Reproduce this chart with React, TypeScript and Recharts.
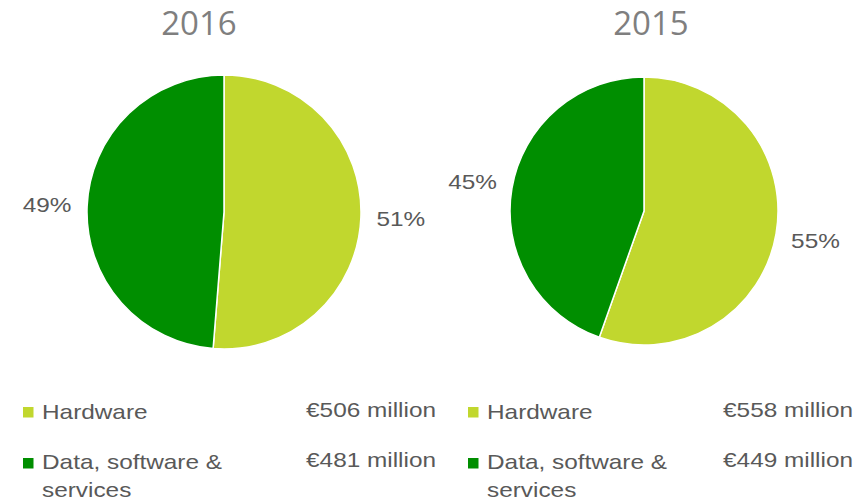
import React from "react";
import { PieChart, Pie, Cell } from "recharts";

const years = ["2016", "2015"];
const categories = ["Hardware", "Data, software & services"];
const values2016 = [506, 481];
const values2015 = [558, 449];
const amountLabels2016 = ["€506 million", "€481 million"];
const amountLabels2015 = ["€558 million", "€449 million"];
const colors = ["#C1D72E", "#008E00"];

const W = 867;
const H = 501;
const FONT = "'Liberation Sans', Arial, sans-serif";
const TEXT = "#595959";
const SX = 1.16;

const toData = (vals: number[]) => {
  const total = vals.reduce((a, b) => a + b, 0);
  return vals.map((v, i) => ({ name: categories[i], value: v, pct: Math.round((v / total) * 100) }));
};
const data2016 = toData(values2016);
const data2015 = toData(values2015);

const WideText = ({ x, y, anchor = "start", children, baseline }: any) => (
  <g transform={`translate(${x},${y}) scale(${SX},1)`}>
    <text x={0} y={0} textAnchor={anchor} dominantBaseline={baseline} fill={TEXT} fontSize={21} fontFamily={FONT}>
      {children}
    </text>
  </g>
);

const RAD = Math.PI / 180;
const renderLabel = (props: any) => {
  const { cx, cy, midAngle, outerRadius, payload } = props;
  const r = outerRadius + 40;
  const x = cx + r * Math.cos(-midAngle * RAD);
  const y = cy + r * Math.sin(-midAngle * RAD);
  const pct = payload && payload.pct !== undefined ? payload.pct : props.pct;
  return (
    <WideText x={x} y={y} anchor="middle" baseline="central">
      {pct}%
    </WideText>
  );
};

const pies = [
  { data: data2016, cx: 224, cy: 212, r: 137, title: years[0], titleX: 199, amounts: amountLabels2016, legendX: 23, amountRight: 436 },
  { data: data2015, cx: 644, cy: 211, r: 134, title: years[1], titleX: 651, amounts: amountLabels2015, legendX: 468, amountRight: 853 },
];

export default function App() {
  return (
    <div style={{ position: "absolute", left: 0, top: 0, width: W, height: H, background: "#fff" }}>
      <PieChart width={W} height={H} margin={{ top: 0, right: 0, bottom: 0, left: 0 }}>
        {pies.map((p, k) => (
          <Pie
            key={k}
            data={p.data}
            dataKey="value"
            nameKey="name"
            cx={p.cx}
            cy={p.cy}
            outerRadius={p.r}
            innerRadius={0}
            startAngle={90}
            endAngle={-270}
            stroke="#ffffff"
            strokeWidth={1.5}
            label={renderLabel}
            labelLine={false}
            isAnimationActive={false}
          >
            {p.data.map((d, i) => (
              <Cell key={i} fill={colors[i]} />
            ))}
          </Pie>
        ))}
      </PieChart>
      <svg width={W} height={H} style={{ position: "absolute", left: 0, top: 0, pointerEvents: "none" }}>
        {pies.map((p, k) => (
          <g key={k}>
            <text x={p.titleX} y={35} textAnchor="middle" fill="#7F7F7F" fontSize={33} fontFamily="'Open Sans', sans-serif">
              {p.title}
            </text>
            <rect x={p.legendX} y={407} width={10.5} height={10.5} fill={colors[0]} />
            <WideText x={p.legendX + 19} y={419}>{categories[0]}</WideText>
            <WideText x={p.amountRight} y={417} anchor="end">{p.amounts[0]}</WideText>
            <rect x={p.legendX} y={458} width={10.5} height={10.5} fill={colors[1]} />
            <WideText x={p.legendX + 19} y={469}>{"Data, software &"}</WideText>
            <WideText x={p.legendX + 19} y={497}>{"services"}</WideText>
            <WideText x={p.amountRight} y={467} anchor="end">{p.amounts[1]}</WideText>
          </g>
        ))}
      </svg>
    </div>
  );
}
